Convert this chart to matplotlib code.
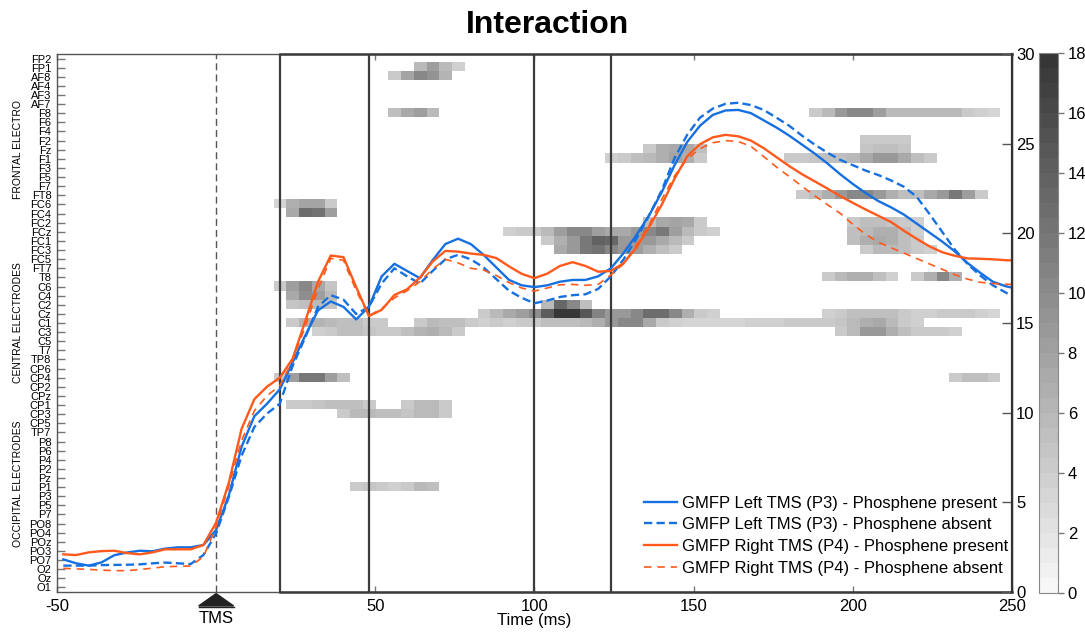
import numpy as np
import matplotlib.pyplot as plt
import matplotlib.transforms as mtransforms
from matplotlib.colors import LinearSegmentedColormap
from matplotlib.patches import Polygon

plt.rcParams["font.family"] = ["Liberation Sans", "DejaVu Sans"]

electrodes = [
    "FP2", "FP1", "AF8", "AF4", "AF3", "AF7", "F8", "F6", "F4", "F2", "Fz", "F1",
    "F3", "F5", "F7", "FT8", "FC6", "FC4", "FC2", "FCz", "FC1", "FC3", "FC5", "FT7",
    "T8", "C6", "C4", "C2", "Cz", "C1", "C3", "C5", "T7", "TP8", "CP6", "CP4", "CP2",
    "CPz", "CP1", "CP3", "CP5", "TP7", "P8", "P6", "P4", "P2", "Pz", "P1", "P3", "P5",
    "P7", "PO8", "PO4", "POz", "PO3", "PO7", "O2", "Oz", "O1",
]
group_labels = ["FRONTAL ELECTRO", "CENTRAL ELECTRODES", "OCCIPITAL ELECTRODES"]
group_rows = [10.0, 29.0, 46.6]

# GMFP samples every 4 ms
time_ms = np.arange(-48, 253, 4)
gmfp_left_present = [
    1.82, 1.6, 1.47, 1.65, 2.05, 2.2, 2.3, 2.27, 2.42, 2.49, 2.49, 2.62,
    3.46, 5.4, 8.1, 9.8, 10.5, 11.3, 12.8, 14.3, 15.7, 16.2, 15.9, 15.2,
    15.9, 17.6, 18.3, 17.9, 17.5, 18.5, 19.4, 19.7, 19.4, 18.8, 18.1, 17.4,
    17.1, 17.0, 17.1, 17.3, 17.4, 17.4, 17.6, 18.05, 18.9, 19.9, 21.0, 22.3,
    23.8, 25.1, 26.0, 26.6, 26.85, 26.88, 26.7, 26.3, 25.9, 25.45, 24.95, 24.45,
    23.9, 23.3, 22.75, 22.25, 21.8, 21.45, 21.05, 20.55, 20.05, 19.55, 19.0, 18.35,
    17.8, 17.3, 17.05, 16.9,
]
gmfp_left_absent = [
    1.47, 1.47, 1.47, 1.5, 1.51, 1.52, 1.54, 1.6, 1.64, 1.6, 1.56, 2.06,
    3.27, 5.3, 7.6, 9.2, 9.95, 10.5, 12.6, 14.2, 15.9, 16.55, 16.3, 15.5,
    15.9, 17.2, 18.05, 17.6, 17.2, 17.9, 18.55, 18.8, 18.55, 18.1, 17.45, 16.8,
    16.4, 16.1, 16.25, 16.45, 16.55, 16.6, 16.9, 17.6, 18.55, 19.7, 21.0, 22.4,
    24.2, 25.5, 26.45, 26.95, 27.22, 27.28, 27.15, 26.88, 26.45, 26.0, 25.45, 24.95,
    24.5, 24.1, 23.8, 23.5, 23.25, 22.95, 22.6, 22.05, 21.1, 20.1, 19.1, 18.3,
    17.65, 17.1, 16.7, 16.3,
]
gmfp_right_present = [
    2.1, 2.06, 2.21, 2.28, 2.3, 2.17, 2.1, 2.21, 2.38, 2.38, 2.38, 2.62,
    3.87, 6.1, 9.1, 10.75, 11.45, 11.95, 13.0, 15.1, 17.3, 18.76, 18.67, 17.0,
    15.39, 15.73, 16.56, 16.88, 17.53, 18.42, 19.02, 18.98, 18.87, 18.8, 18.62, 18.16,
    17.74, 17.5, 17.75, 18.18, 18.39, 18.18, 17.86, 17.9, 18.33, 19.2, 20.35, 21.6,
    23.05, 24.3, 24.97, 25.35, 25.49, 25.41, 25.17, 24.75, 24.25, 23.75, 23.3, 22.9,
    22.5, 22.08, 21.7, 21.33, 20.98, 20.63, 20.15, 19.7, 19.28, 18.95, 18.75, 18.6,
    18.58, 18.55, 18.5, 18.48,
]
gmfp_right_absent = [
    1.32, 1.29, 1.26, 1.22, 1.19, 1.19, 1.25, 1.33, 1.41, 1.43, 1.45, 1.97,
    3.64, 5.9, 8.45, 10.1, 10.95, 11.5, 12.9, 14.8, 16.9, 18.6, 18.5, 16.8,
    15.4, 15.8, 16.4, 16.8, 17.3, 18.0, 18.55, 18.35, 18.05, 17.95, 17.65, 17.25,
    16.95, 16.78, 16.95, 17.13, 17.15, 17.1, 17.15, 17.68, 18.3, 19.35, 20.45, 21.9,
    23.2, 24.15, 24.72, 25.05, 25.17, 25.12, 24.85, 24.28, 23.7, 23.17, 22.63, 22.1,
    21.6, 21.12, 20.5, 19.95, 19.5, 19.2, 18.9, 18.6, 18.3, 18.0, 17.7, 17.45,
    17.27, 17.2, 17.16, 17.15,
]

# significant interaction clusters: electrode -> [(first bin centre in ms, values every 4 ms)]
clusters = {
    "FP1": [(64, [5.8, 8.0, 5.8, 3.6])],
    "AF8": [(56, [4.35, 7.5, 10.2, 9.1, 6.2])],
    "F8": [(56, [5.1, 7.3, 8.0, 5.8]),
           (188, [4.35, 5.8, 8.65, 10.2, 10.2, 8.0, 5.8, 5.8, 5.6, 5.8, 5.8, 5.6, 4.35, 3.6, 3.25])],
    "F2": [(204, [4.35, 4.35, 4.35, 4.35])],
    "Fz": [(136, [4.35, 6.55, 7.3, 7.3, 5.1]), (204, [4.7, 5.1, 5.1, 4.7])],
    "F1": [(124, [3.6, 4.35, 5.1, 5.8, 6.55, 7.65, 6.55, 4.35]),
           (180, [4.35, 4.35, 4.7, 5.1, 5.1, 5.8, 7.3, 8.65, 8.65, 7.3, 5.1, 4.35])],
    "FT8": [(184, [4.35, 5.1, 6.55, 8.65, 10.2, 10.2, 8.65, 6.55, 5.1, 5.1, 7.3, 8.65, 11.8, 8.0, 4.35])],
    "FC6": [(20, [3.4, 6.55, 7.65, 7.65, 4.35])],
    "FC4": [(24, [7.3, 12.8, 12.4, 8.0])],
    "FC2": [(136, [5.1, 7.3, 7.65, 7.3, 4.35]), (200, [4.35, 5.1, 5.1, 4.7, 4.35, 3.6])],
    "FCz": [(92, [3.6, 4.35, 4.35, 5.8, 8.0, 10.2, 10.2, 8.0, 7.3, 7.3, 8.65, 10.2, 11.8, 8.0, 5.8, 4.35, 3.6]),
            (200, [5.1, 5.8, 6.55, 6.55, 5.1, 3.6])],
    "FC1": [(104, [4.35, 6.55, 8.65, 11.8, 13.9, 13.3, 8.65, 8.0, 8.65, 7.3, 5.8, 4.35]),
            (200, [5.1, 6.55, 7.3, 6.55, 5.1, 4.35])],
    "FC3": [(108, [7.3, 8.65, 11.8, 12.4, 10.2, 8.65, 8.0, 6.55, 5.1, 4.35]),
            (204, [4.35, 5.8, 5.8, 5.1, 4.35, 3.6])],
    "T8": [(192, [4.35, 5.8, 6.55, 6.55, 5.1, 3.6]), (220, [4.35, 6.55, 10.2, 6.55])],
    "C6": [(20, [4.35, 8.0, 10.2, 7.3, 4.7])],
    "C4": [(24, [7.3, 9.8, 8.0, 5.8])],
    "C2": [(24, [4.7, 5.1, 5.8, 4.7]), (104, [5.8, 13.3, 10.2, 5.1])],
    "Cz": [(84, [4.35, 5.8, 7.0, 8.3, 9.5, 14.3, 17.8, 17.5, 14.5, 10.5, 8.65, 8.65, 10.2, 12.5, 12.8,
                 10.2, 6.55, 4.35, 3.6]),
           (192, [3.6, 4.35, 5.1, 5.1, 5.1, 5.1, 4.35, 3.6, 3.6, 4.35, 4.35, 4.35, 3.6, 3.25])],
    "C1": [(24, [4.35, 6.2, 6.2, 5.8, 5.1, 5.1, 4.35, 4.0]),
           (64, [4.35, 5.8, 5.1, 5.1, 4.35, 3.8, 4.0, 3.6, 4.35, 4.35, 5.1, 5.1, 5.1, 5.8, 6.55, 8.65,
                 10.2, 10.2, 7.3, 4.35, 3.6, 3.25, 3.25, 3.25, 3.25, 3.4, 3.6, 3.6, 3.8, 4.0, 4.35,
                 4.35, 4.35, 4.7, 5.8, 6.55, 7.3, 5.8, 4.35, 3.6])],
    "C3": [(32, [3.6, 4.35, 5.1, 5.1, 4.7, 4.35, 4.35, 5.1, 6.2, 6.55, 5.8, 4.35]),
           (196, [4.35, 5.8, 8.65, 8.65, 6.55, 5.1, 4.35, 4.35, 4.35, 3.6])],
    "CP4": [(20, [4.35, 8.0, 11.8, 11.8, 8.0, 5.1]), (232, [4.35, 5.1, 5.1, 4.35])],
    "CP1": [(24, [4.35, 4.35, 4.7, 5.1, 5.1, 5.1, 4.35]), (60, [4.35, 5.8, 5.8, 4.35])],
    "CP3": [(40, [4.35, 5.8, 5.8, 5.1, 5.1, 4.7, 5.8, 5.8, 4.35])],
    "P1": [(44, [4.35, 4.7, 4.35, 3.6, 4.35, 5.8, 5.1])],
}

bin_centres = np.arange(-48, 249, 4)
heat = np.full((len(electrodes), len(bin_centres)), np.nan)
for name, segments in clusters.items():
    row = electrodes.index(name)
    for t0, vals in segments:
        col = (t0 + 48) // 4
        heat[row, col:col + len(vals)] = vals

cmap = LinearSegmentedColormap.from_list("sig", ["#f7f7f7", "#363636"], N=36)
cmap.set_bad("white")

fig = plt.figure(figsize=(10.85, 6.32), dpi=100)
ax = fig.add_axes([0.0525, 0.0633, 0.8802, 0.8513])
cax = fig.add_axes([0.9576, 0.0617, 0.0175, 0.8545])

im = ax.imshow(heat, cmap=cmap, vmin=0, vmax=18, aspect="auto", interpolation="nearest",
               extent=(-50, 250, len(electrodes) - 0.5, -0.5))
ax.set_xlim(-50, 250)
ax.set_ylim(len(electrodes) - 0.5, -0.5)
ax.set_yticks(range(len(electrodes)))
ax.set_yticklabels(electrodes, fontsize=8)
ax.tick_params(axis="y", direction="in", length=6, width=1, color="#777", pad=4)
ax.set_xticks([-50, 50, 100, 150, 200, 250])
ax.set_xticklabels(["-50", "50", "100", "150", "200", "250"], fontsize=12)
ax.tick_params(axis="x", direction="in", length=4, width=1, color="#777", top=True, pad=5)
ax.set_xlabel("Time (ms)", fontsize=12, labelpad=-1)
for sp in ax.spines.values():
    sp.set_color("#555")
    sp.set_linewidth(1.0)

for x in [20, 48, 100, 124]:
    ax.axvline(x, color="#3c3c3c", lw=1.6, zorder=3)
ax.axvline(0, color="#555", lw=1.0, dashes=(5, 3), zorder=3)
xt = ax.get_xaxis_transform()
ax.plot([20, 250], [0, 0], transform=xt, color="#3c3c3c", lw=1.8, clip_on=False, zorder=4)
ax.plot([20, 250], [1, 1], transform=xt, color="#3c3c3c", lw=1.8, clip_on=False, zorder=4)

# TMS marker below the axis
ax.add_patch(Polygon([(-5.5, -0.026), (5.5, -0.026), (0, -0.003)], closed=True,
                     transform=xt, color="#222", clip_on=False))
ax.plot([-5.5, 5.5], [-0.028, -0.028], transform=xt, color="#222", lw=1, clip_on=False)
ax.text(0, -0.049, "TMS", transform=xt, ha="center", va="center", fontsize=12)

yt = mtransforms.blended_transform_factory(ax.transAxes, ax.transData)
for label, r in zip(group_labels, group_rows):
    ax.text(-0.041, r, label, transform=yt, rotation=90, ha="center", va="center", fontsize=7.5)

ax2 = ax.twinx()
ax2.set_ylim(0, 30)
ax2.set_yticks(range(0, 31, 5))
ax2.tick_params(axis="y", direction="in", length=7, width=1, color="#555", labelsize=12, pad=3)
ax2.spines["right"].set_linewidth(1.6)
ax2.spines["right"].set_color("#333")
for side in ["left", "top", "bottom"]:
    ax2.spines[side].set_visible(False)

blue = "#1670e0"
orange = "#ff5a1c"
ax2.plot(time_ms, gmfp_left_present, color=blue, lw=1.7, label="GMFP Left TMS (P3) - Phosphene present")
ax2.plot(time_ms, gmfp_left_absent, color=blue, lw=1.7, dashes=(3.5, 1.8),
         label="GMFP Left TMS (P3) - Phosphene absent")
ax2.plot(time_ms, gmfp_right_present, color=orange, lw=1.7, label="GMFP Right TMS (P4) - Phosphene present")
ax2.plot(time_ms, gmfp_right_absent, color=orange, lw=1.2, dashes=(4.5, 3.5),
         label="GMFP Right TMS (P4) - Phosphene absent")
ax2.set_xlim(-50, 250)
ax2.legend(loc="lower right", bbox_to_anchor=(1.003, 0.018), frameon=False, fontsize=12,
           handlelength=2.0, handletextpad=0.3, labelspacing=0.4, borderaxespad=0)

cb = fig.colorbar(im, cax=cax, ticks=range(0, 19, 2))
cb.ax.tick_params(labelsize=12, length=4, width=1, color="#777", direction="out", pad=3)
cb.outline.set_edgecolor("#888")
cb.outline.set_linewidth(0.8)

fig.text(0.505, 1 - 25 / 632, "Interaction", ha="center", va="center", fontsize=23, fontweight="bold")

fig.savefig("out.png", dpi=100)
